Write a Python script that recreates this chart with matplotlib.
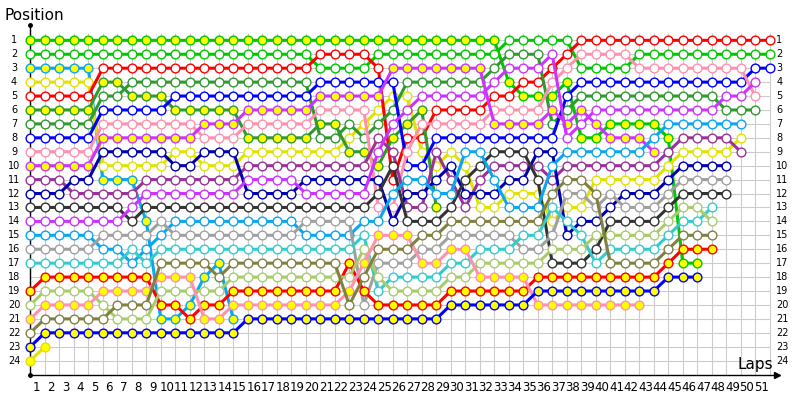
import matplotlib
matplotlib.use("Agg")
import numpy as np
import matplotlib.pyplot as plt

# Lap chart: running position of every car after each lap (index 0 = grid).
car_a = [1, 1, 1, 1, 1, 1, 1, 1, 1, 1, 1, 1, 1, 1, 1, 1, 1, 1, 1, 1, 1, 1, 1, 1, 1, 1, 1, 1, 1, 1,
         1, 1, 1, 4, 5, 5, 5, 4, 8, 8, 7, 7, 7, 7, 8, 17, 17]
car_b = [2, 2, 2, 2, 2, 2, 2, 2, 2, 2, 2, 2, 2, 2, 2, 2, 2, 2, 2, 2, 3, 3, 3, 3, 2, 2, 2, 2, 2, 2,
         2, 2, 2, 1, 1, 1, 1, 1, 3, 3, 3, 3, 2, 2, 2, 2, 2, 2, 2, 2, 2, 2]
car_c = [3, 3, 3, 3, 3, 11, 11, 11, 14, 21, 21, 20, 18, 17, 21]
car_d = [4, 4, 4, 4, 4, 10, 10, 10, 10, 10, 9, 9, 10, 10, 10, 9, 9, 9, 9, 9, 9, 9, 8, 7, 6, 5, 5, 9, 10, 9,
         10, 13, 13, 12, 12, 12, 14, 13, 13, 11, 11, 11, 11, 11, 10, 9, 9, 9, 9, 8]
car_e = [5, 5, 5, 5, 5, 3, 3, 3, 3, 3, 3, 3, 3, 3, 3, 3, 3, 3, 3, 3, 2, 2, 2, 2, 3, 11, 8, 8, 6, 6,
         6, 6, 5, 5, 4, 4, 3, 2, 1, 1, 1, 1, 1, 1, 1, 1, 1, 1, 1, 1, 1, 1]
car_f = [6, 6, 6, 6, 6, 4, 4, 5, 5, 5, 6, 6, 6, 6, 6, 8, 8, 8, 8, 8, 7, 7, 9, 9, 10, 8, 7, 6, 13]
car_g = [7, 7, 7, 7, 7, 5, 5, 4, 4, 4, 4, 4, 4, 4, 4, 4, 4, 4, 4, 4, 8, 8, 7, 8, 7, 6, 4, 4, 4, 4,
         4, 4, 3, 2, 2, 2, 7, 6, 5, 5, 5, 5, 5, 5, 5, 5, 5, 5, 6, 6, 6]
car_h = [8, 8, 8, 8, 8, 6, 6, 6, 6, 6, 5, 5, 5, 5, 5, 5, 5, 5, 5, 5, 4, 4, 4, 4, 4, 4, 10, 10, 8, 8,
         8, 8, 8, 8, 8, 8, 8, 5, 4, 4, 4, 4, 4, 4, 4, 4, 4, 4, 4, 4, 3, 3]
car_i = [9, 9, 9, 9, 9, 7, 7, 7, 7, 7, 7, 7, 8, 8, 8, 7, 7, 7, 7, 7, 6, 6, 6, 6, 13, 13, 9, 7, 7, 7,
         7, 7, 6, 6, 6, 6, 4, 3, 2, 2, 2, 2, 3, 3, 3, 3, 3, 3, 3, 3, 5]
car_j = [10, 10, 10, 10, 10, 8, 8, 8, 8, 8, 8, 8, 7, 7, 7, 6, 6, 6, 6, 6, 5, 5, 5, 5, 5, 3, 3, 3, 3, 3,
         3, 3, 7, 7, 7, 7, 6, 7, 6, 7, 8, 8, 8, 9]
car_k = [11, 11, 11, 12, 12, 12, 12, 12, 11, 11, 11, 11, 11, 11, 11, 10, 10, 10, 10, 10, 10, 10, 10, 10, 8, 9, 13, 13, 9, 11,
         13, 11, 10, 10, 10, 10, 11, 10, 10, 10, 10, 10, 10, 10, 9, 8, 8, 8, 8, 9]
car_l = [12, 12, 12, 11, 11, 9, 9, 9, 9, 9, 10, 10, 9, 9, 9, 12, 12, 12, 12, 11, 11, 11, 11, 11, 11, 14, 12, 12, 11, 10,
         12, 12, 12, 11, 11, 9, 9, 15, 14, 14, 13, 12, 12, 12, 11, 10, 10, 10, 10]
car_m = [13, 13, 13, 13, 13, 13, 13, 14, 13, 13, 13, 13, 13, 13, 13, 13, 13, 13, 13, 13, 13, 13, 13, 13, 12, 10, 14, 14, 14, 13,
         11, 10, 9, 9, 9, 11, 17, 17, 17, 16, 14, 14, 14, 14, 13, 12, 12, 12, 12]
car_n = [14, 14, 14, 14, 14, 14, 14, 13, 12, 12, 12, 12, 12, 12, 12, 11, 11, 11, 11, 12, 12, 12, 12, 12, 9, 7, 6, 5, 5, 5,
         5, 5, 4, 3, 3, 3, 2, 8, 7, 6, 6, 6, 6, 6, 6, 6, 6, 6, 5, 5, 4]
car_o = [15, 15, 15, 15, 15, 16, 16, 17, 16, 15, 14, 14, 14, 14, 14, 14, 14, 14, 14, 15, 15, 15, 15, 14, 14, 12, 11, 11, 12, 12,
         9, 9, 11, 13, 13, 13, 10, 9, 9, 9, 9, 9, 9, 8, 7, 7, 7, 7, 7, 7]
car_p = [16, 16, 16, 16, 16, 15, 15, 15, 15, 14, 15, 15, 15, 15, 15, 15, 15, 15, 15, 14, 14, 14, 14, 20, 17, 17, 17, 16, 16, 15,
         15, 15, 15, 15, 16, 16, 15, 12, 12, 13, 12, 13, 13, 13, 12, 11, 11, 11, 11]
car_q = [17, 17, 17, 17, 17, 17, 17, 16, 17, 16, 16, 16, 16, 16, 16, 16, 16, 16, 16, 16, 16, 16, 16, 15, 19, 18, 18, 18, 18, 17,
         17, 16, 16, 16, 15, 15, 13, 14, 15, 17, 16, 16, 16, 16, 15, 14, 14, 13]
car_r = [19, 18, 18, 18, 18, 18, 18, 18, 18, 20, 20, 21, 20, 20, 19, 19, 19, 19, 19, 19, 19, 19, 17, 19, 20, 20, 20, 20, 20, 19,
         19, 19, 19, 19, 19, 18, 18, 18, 18, 18, 18, 18, 18, 18, 17, 16, 16, 16]
car_s = [20, 19, 19, 19, 19, 20, 21, 21, 21, 19, 19, 19, 19, 19, 18, 18, 18, 18, 18, 18, 18, 18, 18, 16, 18, 19, 19, 19, 19, 18,
         18, 17, 17, 17, 17, 17, 16, 16, 16, 15, 15, 15, 15, 15, 14, 13, 13, 14]
car_t = [21, 20, 20, 20, 20, 19, 19, 19, 19, 18, 18, 18, 21, 21, 20, 20, 20, 20, 20, 20, 20, 20, 19, 17, 15, 15, 15, 17, 17, 16,
         16, 18, 18, 18, 18, 20, 20, 20, 20, 20, 20, 20, 20]
car_u = [22, 21, 21, 21, 21, 21, 20, 20, 20, 17, 17, 17, 17, 18, 17, 17, 17, 17, 17, 17, 17, 17, 20, 18, 16, 16, 16, 15, 15, 14,
         14, 14, 14, 14, 14, 14, 12, 11, 11, 12, 17, 17, 17, 17, 16, 15, 15, 15]
car_v = [23, 22, 22, 22, 22, 22, 22, 22, 22, 22, 22, 22, 22, 22, 22, 21, 21, 21, 21, 21, 21, 21, 21, 21, 21, 21, 21, 21, 21, 20,
         20, 20, 20, 20, 20, 19, 19, 19, 19, 19, 19, 19, 19, 19, 18, 18, 18]
car_w = [24, 23]

lap_labels = [str(k) for k in range(1, 52)]
positions = list(range(1, 25))

GREEN = "#00c800"
DKGREEN = "#2f9a2f"
SKY = "#0aa6f0"
YELLOW = "#e2e200"
RED = "#ff0000"
BLUE = "#0000ff"
NAVY = "#0000b0"
PINK = "#ff90b0"
VIOLET = "#cc33ff"
PURPLE = "#993399"
DKGRAY = "#333333"
GRAY = "#a0a0a0"
TEAL = "#33cccc"
LTGREEN = "#a8cc6c"
OLIVE = "#808040"
FILL = "#ffff00"

# (positions, line colour, marker fill)
cars = [
    (car_a, GREEN, FILL), (car_b, GREEN, "white"), (car_c, SKY, FILL),
    (car_d, YELLOW, "white"), (car_e, RED, "white"), (car_f, DKGREEN, FILL),
    (car_g, DKGREEN, "white"), (car_h, BLUE, "white"), (car_i, PINK, "white"),
    (car_j, VIOLET, FILL), (car_k, PURPLE, "white"), (car_l, NAVY, "white"),
    (car_m, DKGRAY, "white"), (car_n, VIOLET, "white"), (car_o, SKY, "white"),
    (car_p, GRAY, "white"), (car_q, TEAL, "white"), (car_r, RED, FILL),
    (car_s, LTGREEN, "white"), (car_t, PINK, FILL), (car_u, OLIVE, "white"),
    (car_v, BLUE, FILL), (car_w, YELLOW, FILL),
]

fig = plt.figure(figsize=(8, 4), dpi=100, facecolor="white")
ax = fig.add_axes([30 / 800, 25 / 400, 747 / 800, 350 / 400])
ax.set_xlim(-0.02, 51.5)
ax.set_ylim(25.03, -0.1)
ax.axis("off")

# grid
n_cols = 52
ax.vlines(range(n_cols), 0.5, 25.03, color="#cccccc", lw=0.8, zorder=0)
ax.hlines(positions, 0, n_cols - 1, color="#cccccc", lw=0.8, zorder=0)

# axes with arrow heads
ax.plot([0, 0], [25.03, -0.1], color="black", lw=1, clip_on=False, zorder=1)
ax.plot([0, 51.5], [25.03, 25.03], color="black", lw=1, clip_on=False, zorder=1)
ax.plot(51.5, 25.03, ">", color="black", ms=4, clip_on=False)
ax.plot(0, -0.1, "o", color="black", ms=2.5, clip_on=False)
ax.plot(0, 25.03, "o", color="black", ms=2.5, clip_on=False)

for i, (pos, col, fill) in enumerate(cars):
    ax.plot(range(len(pos)), pos, "-o", color=col, lw=2.2, ms=6.3,
            mfc=fill, mec=col, mew=1.0, clip_on=False, zorder=2 + i * 0.01)

# tick labels
for p in positions:
    ax.text(-1.12, p, str(p), ha="center", va="center", fontsize=7)
    ax.text(51.45, p, str(p), ha="left", va="center", fontsize=7)
for k, lab in enumerate(lap_labels, start=1):
    ax.text(k - 0.57, 25.9, lab, ha="center", va="center", fontsize=8.5)

fig.text(5 / 800, 1 - 15 / 400, "Position", ha="left", va="center", fontsize=11)
fig.text(773 / 800, 1 - 364 / 400, "Laps", ha="right", va="center", fontsize=11)

fig.savefig("out.png", dpi=100, facecolor="white")
